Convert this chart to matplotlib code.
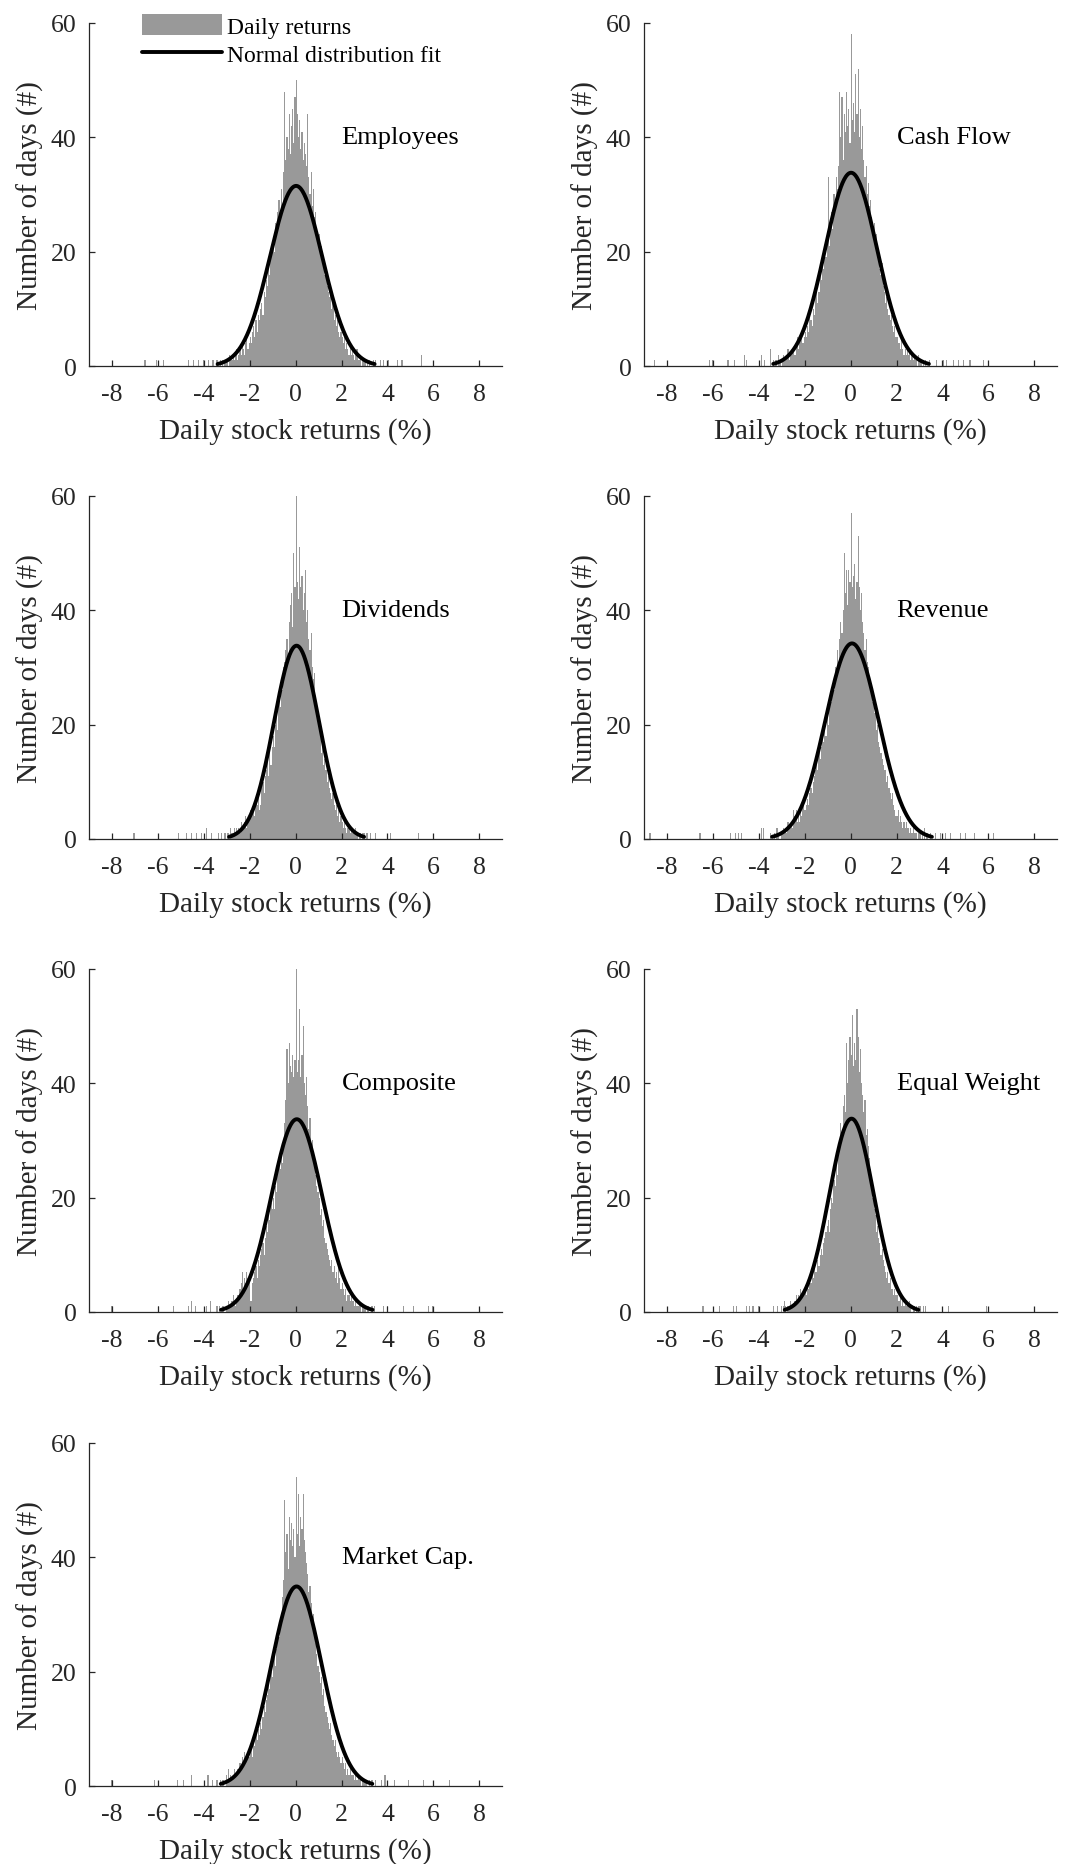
import numpy as np
import matplotlib
matplotlib.use('Agg')
import matplotlib.pyplot as plt

plt.rcParams['font.family'] = ['Liberation Serif', 'DejaVu Serif']

# panel titles, in reading order
panel_names = ['Employees', 'Cash Flow', 'Dividends', 'Revenue',
               'Composite', 'Equal Weight', 'Market Cap.']

# histogram bins: 140 bins of 0.05 % from -3.5 to 3.5
bin_start = -3.5
bin_width = 0.05

employees = [0, 1, 0, 0, 1, 0, 1, 0, 1, 1,
             1, 0, 2, 1, 1, 2, 1, 2, 3, 1,
             2, 3, 2, 4, 3, 2, 4, 5, 3, 4,
             5, 4, 6, 7, 5, 8, 6, 9, 8, 10,
             11, 9, 13, 12, 15, 14, 17, 16, 19, 21,
             22, 20, 25, 24, 27, 29, 26, 31, 28, 34,
             48, 36, 40, 38, 44, 37, 42, 45, 39, 47,
             50, 44, 40, 43, 38, 41, 36, 39, 37, 35,
             44, 33, 30, 34, 28, 31, 26, 27, 24, 22,
             23, 20, 21, 18, 19, 16, 17, 14, 13, 12,
             13, 10, 11, 8, 9, 7, 8, 6, 5, 6,
             5, 4, 6, 3, 4, 3, 2, 4, 2, 3,
             2, 1, 2, 3, 1, 1, 2, 0, 1, 1,
             1, 0, 1, 0, 1, 0, 0, 1, 0, 1]

cash_flow = [3, 0, 1, 0, 1, 1, 0, 2, 1, 0,
             1, 2, 1, 1, 2, 3, 1, 2, 2, 3,
             3, 2, 4, 5, 3, 4, 5, 6, 4, 5,
             6, 5, 7, 6, 9, 8, 7, 10, 9, 12,
             14, 11, 13, 16, 15, 18, 17, 20, 19, 22,
             33, 21, 25, 27, 24, 30, 29, 33, 31, 35,
             48, 40, 47, 36, 44, 41, 48, 42, 45, 39,
             58, 43, 46, 41, 51, 44, 52, 40, 45, 38,
             42, 36, 33, 35, 30, 32, 28, 29, 26, 24,
             25, 22, 23, 19, 20, 17, 16, 18, 14, 13,
             11, 12, 10, 9, 8, 9, 7, 6, 7, 5,
             5, 4, 4, 3, 5, 3, 2, 3, 2, 3,
             2, 3, 1, 2, 1, 2, 1, 1, 0, 2,
             1, 1, 0, 1, 0, 1, 0, 0, 1, 0]

dividends = [0, 0, 1, 0, 0, 1, 0, 0, 1, 0,
             1, 1, 0, 2, 1, 1, 2, 1, 2, 1,
             2, 1, 3, 2, 2, 3, 4, 2, 3, 4,
             5, 4, 5, 6, 4, 7, 6, 8, 5, 6,
             9, 10, 8, 11, 12, 14, 11, 15, 13, 16,
             18, 16, 20, 22, 19, 25, 23, 28, 26, 30,
             31, 33, 35, 31, 38, 41, 43, 37, 50, 44,
             60, 45, 42, 51, 44, 46, 40, 43, 47, 38,
             40, 35, 33, 36, 30, 28, 29, 25, 24, 22,
             20, 18, 15, 17, 13, 14, 12, 10, 11, 9,
             8, 7, 8, 6, 5, 6, 4, 5, 3, 4,
             3, 2, 3, 2, 1, 2, 2, 1, 2, 1,
             1, 1, 2, 1, 0, 1, 1, 0, 1, 1,
             0, 1, 1, 0, 0, 1, 0, 0, 0, 1]

revenue = [1, 0, 0, 1, 0, 2, 2, 1, 0, 1,
           1, 2, 1, 2, 1, 3, 2, 2, 3, 2,
           5, 4, 5, 3, 4, 3, 5, 4, 6, 5,
           5, 6, 7, 6, 8, 9, 8, 10, 11, 12,
           13, 12, 15, 14, 16, 18, 17, 19, 18, 22,
           20, 23, 25, 24, 27, 26, 30, 29, 33, 31,
           35, 38, 36, 40, 50, 43, 47, 41, 47, 45,
           57, 44, 46, 48, 42, 45, 53, 44, 40, 43,
           38, 36, 33, 35, 31, 30, 28, 26, 27, 24,
           22, 23, 19, 20, 17, 16, 15, 14, 13, 12,
           12, 10, 11, 9, 8, 7, 8, 6, 5, 4,
           4, 5, 3, 4, 3, 2, 3, 2, 3, 2,
           2, 1, 2, 1, 2, 1, 1, 1, 0, 1,
           1, 0, 1, 0, 2, 0, 1, 0, 0, 1]

composite = [0, 1, 0, 1, 0, 0, 1, 1, 0, 1,
             1, 2, 1, 1, 2, 3, 2, 1, 2, 3,
             3, 4, 5, 7, 4, 6, 5, 7, 6, 5,
             2, 2, 5, 6, 7, 8, 6, 9, 8, 10,
             11, 12, 10, 13, 15, 14, 17, 16, 19, 18,
             20, 18, 22, 21, 24, 27, 25, 29, 26, 30,
             33, 37, 46, 40, 47, 43, 42, 45, 41, 44,
             60, 42, 44, 53, 41, 45, 50, 40, 38, 41,
             36, 32, 34, 29, 30, 27, 26, 24, 22, 21,
             20, 17, 18, 15, 16, 13, 12, 11, 10, 9,
             8, 9, 7, 8, 6, 7, 5, 8, 6, 4,
             5, 4, 3, 4, 2, 3, 3, 2, 3, 2,
             2, 1, 2, 1, 1, 2, 1, 0, 1, 1,
             1, 0, 1, 1, 0, 0, 1, 0, 1, 0]

equal_weight = [0, 0, 1, 0, 0, 0, 1, 0, 0, 1,
                0, 1, 2, 1, 0, 1, 1, 2, 1, 1,
                1, 2, 3, 2, 3, 2, 4, 3, 3, 4,
                4, 3, 5, 4, 6, 5, 7, 6, 8, 7,
                7, 9, 8, 10, 11, 10, 12, 13, 14, 15,
                16, 14, 18, 20, 19, 23, 22, 26, 24, 28,
                30, 33, 31, 36, 38, 35, 47, 40, 44, 48,
                45, 52, 43, 47, 44, 53, 48, 42, 46, 40,
                38, 35, 37, 31, 32, 29, 27, 25, 22, 20,
                18, 17, 14, 15, 13, 12, 10, 11, 9, 8,
                7, 6, 7, 5, 6, 4, 4, 3, 4, 3,
                3, 2, 2, 3, 1, 2, 1, 2, 1, 1,
                1, 2, 1, 0, 1, 1, 0, 1, 0, 1,
                1, 0, 0, 1, 0, 1, 0, 0, 0, 0]

market_cap = [0, 1, 0, 0, 1, 0, 1, 1, 0, 2,
              1, 3, 1, 2, 1, 2, 3, 2, 2, 3,
              3, 4, 3, 5, 4, 6, 4, 5, 6, 5,
              6, 7, 5, 8, 7, 9, 8, 10, 9, 11,
              10, 12, 14, 13, 15, 16, 18, 17, 20, 19,
              22, 25, 21, 24, 27, 26, 29, 30, 33, 36,
              50, 41, 44, 38, 47, 43, 46, 42, 45, 40,
              54, 44, 51, 42, 47, 45, 51, 43, 41, 39,
              37, 34, 35, 32, 29, 30, 27, 25, 23, 21,
              20, 18, 19, 16, 17, 14, 13, 12, 11, 10,
              11, 9, 8, 7, 8, 6, 5, 6, 5, 4,
              5, 4, 3, 4, 2, 3, 2, 3, 2, 2,
              2, 1, 2, 1, 2, 1, 1, 0, 1, 1,
              1, 1, 0, 0, 1, 0, 1, 0, 0, 1]

# isolated tail days outside the binned range (return %, number of days)
employees_tail_x = [-6.56, -6.05, -5.76, -4.67, -4.45, -4.23, -4.01, -3.80, -3.60, 3.69, 3.83, 4.05, 4.42, 4.63, 5.50]
employees_tail_n = [1, 1, 1, 1, 1, 1, 1, 1, 1, 1, 1, 1, 1, 1, 2]
cash_flow_tail_x = [-8.54, -6.14, -6.00, -5.34, -5.05, -4.64, -4.54, -3.88, -3.74, 3.75, 4.04, 4.19, 4.48, 4.70, 4.90, 5.20, 5.80]
cash_flow_tail_n = [1, 1, 1, 1, 1, 2, 1, 2, 1, 1, 1, 1, 1, 1, 1, 1, 1]
dividends_tail_x = [-7.04, -5.12, -4.76, -4.55, -4.33, -4.10, -3.88, -3.67, 4.12, 5.36]
dividends_tail_n = [1, 1, 1, 1, 1, 1, 2, 1, 1, 1]
revenue_tail_x = [-8.74, -6.56, -5.25, -5.03, -4.90, -4.76, -3.90, -3.80, 3.69, 3.90, 4.13, 4.35, 4.77, 5.00, 5.40, 6.24]
revenue_tail_n = [1, 1, 1, 1, 1, 1, 2, 2, 1, 1, 1, 1, 1, 1, 1, 1]
composite_tail_x = [-8.00, -5.98, -5.33, -4.67, -4.52, -4.38, -3.87, -3.72, 3.84, 3.99, 4.71, 5.15, 5.80, 5.95]
composite_tail_n = [1, 1, 1, 1, 2, 1, 1, 2, 1, 1, 1, 1, 1, 1]
equal_weight_tail_x = [-6.43, -5.70, -5.12, -4.97, -4.54, -4.40, -4.25, -4.03, 4.26, 5.93]
equal_weight_tail_n = [1, 1, 1, 1, 1, 1, 1, 1, 1, 1]
market_cap_tail_x = [-8.00, -6.15, -5.13, -4.90, -4.55, -3.82, -3.62, 3.74, 3.89, 4.32, 4.90, 5.56, 6.72]
market_cap_tail_n = [1, 1, 1, 1, 2, 2, 1, 1, 2, 1, 1, 1, 1]

# normal distribution fit: mean (%), std (%), peak height (days)
fit_mu = [0.02, 0.02, 0.04, 0.06, 0.05, 0.04, 0.04]
fit_sigma = [1.14, 1.13, 0.98, 1.16, 1.10, 0.97, 1.10]
fit_peak = [31.5, 33.8, 33.8, 34.2, 33.7, 33.8, 34.9]

counts = [employees, cash_flow, dividends, revenue, composite, equal_weight, market_cap]
tails_x = [employees_tail_x, cash_flow_tail_x, dividends_tail_x, revenue_tail_x,
           composite_tail_x, equal_weight_tail_x, market_cap_tail_x]
tails_n = [employees_tail_n, cash_flow_tail_n, dividends_tail_n, revenue_tail_n,
           composite_tail_n, equal_weight_tail_n, market_cap_tail_n]

bar_color = '#999999'
axis_color = '#262626'

fig = plt.figure(figsize=(10.65, 18.65), dpi=100)
lefts = [0.0836, 0.6047]
bottoms = [0.8032, 0.5496, 0.2960, 0.0418]
w, h = 0.388, 0.184

for i, name in enumerate(panel_names):
    ax = fig.add_axes([lefts[i % 2], bottoms[i // 2], w, h])
    c = np.array(counts[i])
    centers = bin_start + bin_width * (np.arange(len(c)) + 0.5)
    bars = ax.bar(centers, c, width=bin_width, color=bar_color, linewidth=0)
    ax.bar(tails_x[i], tails_n[i], width=bin_width, color=bar_color, linewidth=0)

    mu, sig, pk = fit_mu[i], fit_sigma[i], fit_peak[i]
    xf = np.linspace(mu - 3 * sig, mu + 3 * sig, 300)
    line, = ax.plot(xf, pk * np.exp(-0.5 * ((xf - mu) / sig) ** 2), color='black',
                    lw=2.8, solid_capstyle='round')

    ax.set_xlim(-9, 9)
    ax.set_ylim(0, 60)
    ax.set_xticks(np.arange(-8, 9, 2))
    ax.set_xticklabels([str(v) for v in range(-8, 9, 2)])
    ax.set_yticks([0, 20, 40, 60])
    for s in ['top', 'right']:
        ax.spines[s].set_visible(False)
    for s in ['left', 'bottom']:
        ax.spines[s].set_color(axis_color)
        ax.spines[s].set_linewidth(0.9)
    ax.tick_params(direction='in', length=4, width=0.9, color=axis_color,
                   labelcolor=axis_color, labelsize=18.5)
    ax.tick_params(axis='x', pad=12)
    ax.tick_params(axis='y', pad=9)
    ax.set_xlabel('Daily stock returns (%)', fontsize=21, color=axis_color, labelpad=9)
    ax.set_ylabel('Number of days (#)', fontsize=21, color=axis_color, labelpad=5)
    ax.text(2.0, 40, name, fontsize=19, ha='left', va='center', color='black')

    if i == 0:
        ax.legend([bars, line], ['Daily returns', 'Normal distribution fit'],
                  loc='upper left', bbox_to_anchor=(0.128, 1.025), frameon=False,
                  fontsize=17, borderpad=0, borderaxespad=0, handlelength=3.4,
                  handleheight=1.0, handletextpad=0.2, labelspacing=0.2)

fig.savefig('out.png', dpi=100)
